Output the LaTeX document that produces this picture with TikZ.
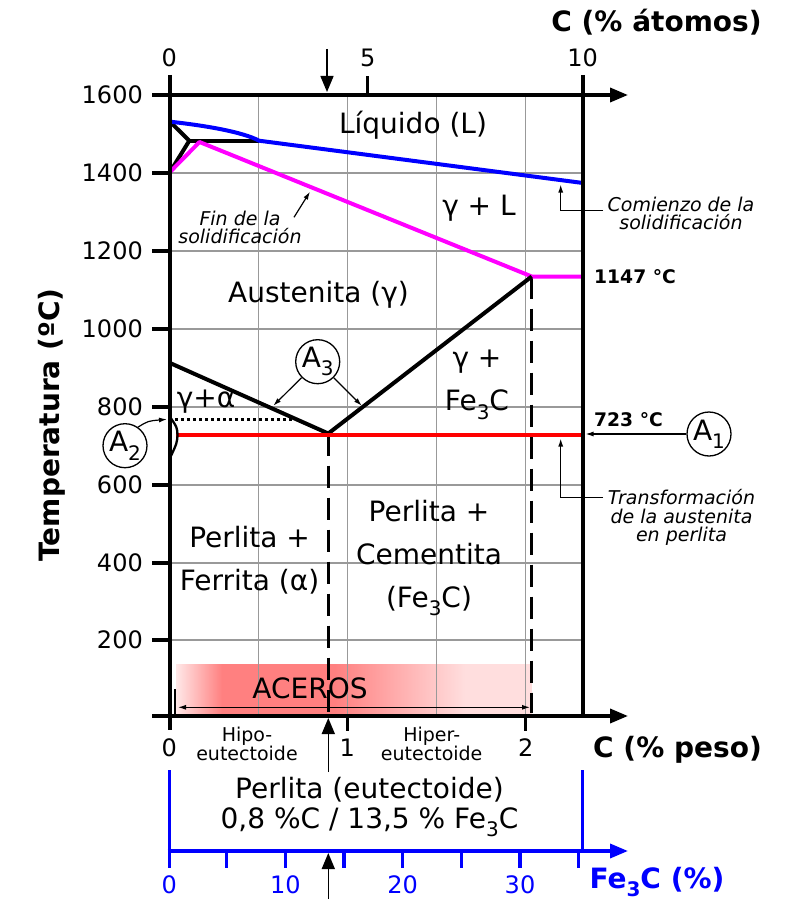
\documentclass[tikz,border=0pt]{standalone}
\usepackage{fontspec}
\setmainfont{DejaVu Sans}
\usetikzlibrary{arrows.meta}
\definecolor{pblue}{RGB}{0,0,255}
\definecolor{pmag}{RGB}{255,0,255}
\definecolor{pred}{RGB}{255,0,0}
\definecolor{rstrong}{RGB}{255,128,128}
\definecolor{rpale}{RGB}{255,222,222}
\definecolor{rlight}{RGB}{255,232,232}
\newcommand{\lsub}[1]{\raisebox{-0.3em}{\fontsize{20}{20}\selectfont #1}}
\begin{document}
\begin{tikzpicture}[x=1pt,y=-1pt,
  gridline/.style={black!40, line width=1.2pt},
  axisline/.style={line width=3.5pt},
  phase/.style={line width=4pt, line join=round},
  dashline/.style={line width=3pt, dash pattern=on 22pt off 10pt},
  big/.style={font=\fontsize{28}{43}\selectfont, align=center, inner sep=0pt},
  ticklab/.style={font=\fontsize{24}{28}\selectfont, inner sep=0pt},
  note/.style={font=\fontsize{19}{18.6}\selectfont\itshape, align=center, inner sep=0pt},
  small/.style={font=\fontsize{19}{18.5}\selectfont, align=center, inner sep=0pt},
  boldlab/.style={font=\fontsize{28}{32}\selectfont\bfseries, inner sep=0pt},
  templab/.style={font=\fontsize{18.7}{22}\selectfont\bfseries, inner sep=0pt, anchor=west},
  acirc/.style={draw, circle, line width=1.3pt, minimum size=44pt, inner sep=0pt, font=\fontsize{28}{30}\selectfont},
  conn/.style={line width=1.2pt, -{Latex[length=8pt,width=5pt]}},
  bigarrow/.style={line width=1.5pt, -{Triangle[length=16pt,width=13pt]}},
  axarrow/.style={-{Triangle[length=18pt,width=14pt]}}
]
\useasboundingbox (0,0) rectangle (800,912);

% ---- ACEROS band
\shade[left color=rlight, right color=rstrong] (176,664) rectangle (222,716);
\fill[rstrong] (221.5,664) rectangle (335,716);
\shade[left color=rstrong, right color=rpale] (334.5,664) rectangle (465,716);
\fill[rpale] (464.5,664) rectangle (531.5,716);

% ---- grid
\foreach \x in {258.5,347.3,436.5,525.7} \draw[gridline] (\x,95) -- (\x,716);
\foreach \y in {173,251,329,407,485,563,640} \draw[gridline] (170,\y) -- (583,\y);

% ---- key points
\coordinate (liqL) at (170,121.7);
\coordinate (peri) at (189.3,140.7);
\coordinate (periR) at (259,140.7);
\coordinate (solL) at (170,172);
\coordinate (solP) at (199.5,142);
\coordinate (liqR) at (583,183);
\coordinate (eut) at (328.3,433.5);
\coordinate (eutB) at (531.7,276.5);
\coordinate (eutBR) at (583,276.5);
\coordinate (a3L) at (170,363);
\coordinate (redL) at (176,435);
\coordinate (redR) at (583,435);
\coordinate (dotL) at (175,419.3);
\coordinate (dotR) at (293,419.3);
\coordinate (eutD) at (328.3,716);
\coordinate (eutBD) at (531.7,713);

% ---- dashed composition lines
\draw[dashline] (eut) -- (eutD);
\draw[dashline] (eutB) -- (eutBD);

% ---- phase lines
\draw[phase] (liqL) -- (peri) -- (solL);
\draw[phase] (peri) -- (periR);
\draw[phase, pmag] (solL) -- (solP) -- (eutB) -- (eutBR);
\draw[phase, pblue] (liqL) .. controls (205,125.5) and (243,132) .. (periR) -- (liqR);
\draw[phase] (a3L) -- (eut) -- (eutB);
\draw[phase, pred] (redL) -- (redR);
\draw[line width=2.5pt, dash pattern=on 3pt off 3pt] (dotL) -- (dotR);
\coordinate (lensT) at (170,417);
\coordinate (lensB) at (170,458);
\draw[line width=2.3pt] (lensT) .. controls (177,427) .. (177.5,435) .. controls (177,443) .. (lensB);

% ---- axes
\draw[axisline] (170,75) -- (170,730);
\draw[axisline] (583,75) -- (583,716);
\draw[axisline, axarrow] (152,95) -- (628,95);
\draw[axisline, axarrow] (152,716) -- (628,716);
\foreach \y in {173,251,329,407,485,563,640} \draw[axisline] (152,\y) -- (170,\y);
\draw[axisline] (347.3,716) -- (347.3,731);
\draw[axisline] (525.7,716) -- (525.7,731);
\draw[axisline] (367.7,95) -- (367.7,76);

% ---- y tick labels
\foreach \v/\y in {1600/95,1400/173,1200/251,1000/329,800/407,600/485,400/563,200/640}
  \node[ticklab, anchor=east] (ty\v) at (143,\y) {\v};
% ---- x tick labels
\node[ticklab] (tx0) at (169.3,748) {0};
\node[ticklab] (tx1) at (347.3,748) {1};
\node[ticklab] (tx2) at (525.7,748) {2};
\node[ticklab] (ta0) at (169.3,58) {0};
\node[ticklab] (ta5) at (367.7,58) {5};
\node[ticklab] (ta10) at (582.7,58) {10};

% ---- axis titles
\node[boldlab] (catom) at (656.5,22) {C (\% átomos)};
\node[boldlab] (cpeso) at (677.5,750) {C (\% peso)};
\node[boldlab, rotate=90] (temp) at (52,425) {Temperatura (ºC)};
\node[boldlab, text=pblue] (fe3c) at (657,882) {Fe\lsub{3}C (\%)};

% ---- region labels
\node[big] (liq) at (413,125) {Líquido (L)};
\node[big] (gl) at (479,208) {γ + L};
\node[big] (aus) at (318.5,295) {Austenita (γ)};
\node[big] (ga) at (206,402) {γ+α};
\node[big] (gfe) at (477,385) {γ +\\Fe\lsub{3}C};
\node[big] (pf) at (249.6,560) {Perlita +\\Ferrita (α)};
\node[big] (pc) at (429,558) {Perlita +\\Cementita\\(Fe\lsub{3}C)};
\node[big] (ace) at (310,688) {ACEROS};
\node[small] (hipo) at (247,744) {Hipo-\\eutectoide};
\node[small] (hiper) at (431.7,744) {Hiper-\\eutectoide};
\node[big, font=\fontsize{28}{30}\selectfont] (perl) at (369.5,807) {Perlita (eutectoide)\\0,8 \%C / 13,5 \% Fe\lsub{3}C};

% ---- temperature labels
\node[templab] (t1147) at (594,277) {1147 °C};
\node[templab] (t723) at (594,419.3) {723 °C};

% ---- notes
\node[note] (fin) at (240,227.5) {Fin de la\\solidificación};
\node[note] (com) at (681,213.5) {Comienzo de la\\solidificación};
\node[note] (trf) at (681.5,517.5) {Transformación\\de la austenita\\en perlita};
\coordinate (finS) at (294,217.3);
\coordinate (finT) at (310,191.7);
\draw[conn] (finS) -- (finT);
\coordinate (comS) at (603,210.7);
\coordinate (comT) at (560.7,184.5);
\draw[conn] (comS) -| (comT);
\coordinate (trfS) at (603,497.3);
\coordinate (trfT) at (560.7,438.5);
\draw[conn] (trfS) -| (trfT);

% ---- A circles
\node[acirc] (A3) at (317.7,361.7) {A\lsub{3}};
\node[acirc] (A2) at (125,445.7) {A\lsub{2}};
\node[acirc] (A1) at (709,434) {A\lsub{1}};
\coordinate (a3l) at (273.3,405.7);
\coordinate (a3r) at (361.7,405.7);
\coordinate (a2t) at (167,419.3);
\coordinate (a1t) at (585.5,434);
\draw[conn] (A3) -- (a3l);
\draw[conn] (A3) -- (a3r);
\draw[conn] (A2.55) .. controls (148,421) .. (a2t);
\draw[conn] (A1) -- (a1t);

% ---- aceros range
\coordinate (acL) at (178,707.3);
\coordinate (acR) at (530,707.3);
\draw[line width=1.2pt, {Latex[length=8pt,width=5pt]}-{Latex[length=8pt,width=5pt]}] (acL) -- (acR);
\coordinate (barT) at (175,689);
\coordinate (barB) at (175,716);
\draw[line width=2pt] (barT) -- (barB);

% ---- eutectoid arrows
\coordinate (topS) at (327,49);
\coordinate (topT) at (327,92);
\draw[bigarrow] (topS) -- (topT);
\coordinate (midS) at (328.3,772);
\coordinate (midT) at (328.3,718);
\draw[bigarrow] (midS) -- (midT);
\coordinate (lowS) at (328.3,899);
\coordinate (lowT) at (328.3,853);
\draw[bigarrow] (lowS) -- (lowT);

% ---- Fe3C axis
\begin{scope}[pblue]
\draw[axisline] (169.3,770) -- (169.3,868);
\draw[axisline] (582.7,770) -- (582.7,851);
\draw[axisline, axarrow] (167.5,851) -- (628,851);
\foreach \x in {226.7,285.3,344,402.7,461.3,520,578.7} \draw[axisline] (\x,851) -- (\x,868);
\node[ticklab, text=pblue] (f0) at (169.3,885) {0};
\node[ticklab, text=pblue] (f10) at (285.3,885) {10};
\node[ticklab, text=pblue] (f20) at (402.7,885) {20};
\node[ticklab, text=pblue] (f30) at (520,885) {30};
\end{scope}
\end{tikzpicture}
\end{document}
